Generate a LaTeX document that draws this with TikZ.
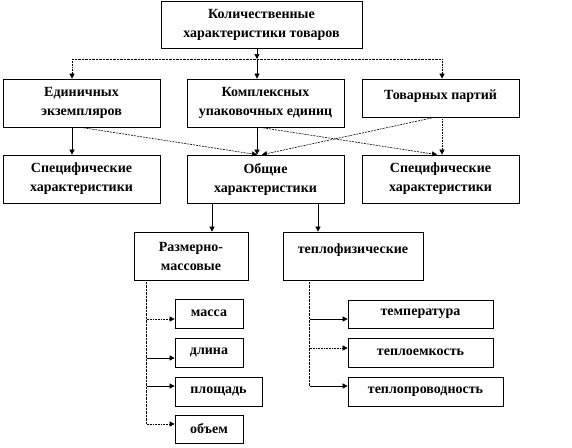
\documentclass[tikz,border=0pt]{standalone}
\usepackage{fontspec}
\setmainfont{Liberation Serif}
\usetikzlibrary{arrows.meta,calc}
\begin{document}
\begin{tikzpicture}[x=1pt,y=-1pt,
  box/.style={draw,line width=0.7pt,fill=white,align=center,inner sep=0pt,
    font=\fontsize{14}{19}\selectfont\bfseries},
  arr/.style={-{Triangle[length=5pt,width=5pt]},line width=0.6pt},
  dots/.style={densely dotted},
  dline/.style={dashed,dash pattern=on 2pt off 1pt}]
\useasboundingbox (0,0) rectangle (572,447);
% row 1
\node[box,minimum width=201,minimum height=47] (top) at (261.5,25) {Количественные\\характеристики товаров};
% row 2
\node[box,minimum width=157,minimum height=48] (ed) at (81.5,103) {Единичных\\экземпляров};
\node[box,minimum width=157,minimum height=48] (kom) at (265.5,103) {Комплексных\\упаковочных единиц};
\node[box,minimum width=157,minimum height=38,text depth=6pt] (tov) at (440.5,98) {Товарных партий};
% row 3
\node[box,minimum width=157,minimum height=48] (specL) at (81.5,179) {Специфические\\характеристики};
\node[box,minimum width=157,minimum height=48] (obsh) at (265.5,179) {Общие\\характеристики};
\node[box,minimum width=157,minimum height=48] (specR) at (440.5,179) {Специфические\\характеристики};
% row 4
\node[box,minimum width=114,minimum height=48] (razm) at (191,256) {Размерно-\\массовые};
\node[box,minimum width=140,minimum height=48,text depth=15pt] (tepl) at (353,256) {теплофизические};
% leaves
\node[box,minimum width=68,minimum height=29] (massa) at (209,313.5) {масса};
\node[box,minimum width=68,minimum height=29] (dlina) at (209,352.5) {длина};
\node[box,minimum width=87,minimum height=29] (plosh) at (218.5,391.5) {площадь};
\node[box,minimum width=68,minimum height=28] (obem) at (209,429) {объем};
\node[box,minimum width=145,minimum height=28] (temp) at (420.5,314) {температура};
\node[box,minimum width=145,minimum height=29] (teploem) at (420.5,352.5) {теплоемкость};
\node[box,minimum width=155,minimum height=29] (teploprov) at (425.5,391.5) {теплопроводность};
% connectors from top
\coordinate (j) at (257,59);
\coordinate (jl) at (72,59);
\coordinate (jr) at (442,59);
\draw[arr] ([xshift=-4.5]top.south) -- (j);
\draw[dots] (jl) -- (jr);
\draw[arr,dots] (jl) -- (jl |- ed.north);
\draw[arr] (j) -- (j |- kom.north);
\draw[arr,dots] (jr) -- (jr |- tov.north);
% row 2 to row 3
\draw[arr] ([xshift=-9.5]ed.south) -- ([xshift=-9.5]specL.north);
\draw[arr] ([xshift=-8.5]kom.south) -- ([xshift=-8.5]obsh.north);
\draw[arr,dots] ([xshift=1.5]tov.south) -- ([xshift=1.5]specR.north);
\draw[arr,dline] ([xshift=-1]ed.south) -- ([xshift=-8.5]obsh.north);
\draw[arr,dline] ([xshift=-6]tov.south) -- ([xshift=-3.5]obsh.north);
\draw[arr,dline] ([xshift=-5.5]kom.south) -- ([xshift=-3.5]specR.north);
% row 3 to row 4
\draw[arr] ([xshift=-53.5]obsh.south) -- ([xshift=21]razm.north);
\draw[arr] ([xshift=52.5]obsh.south) -- ([xshift=-35]tepl.north);
% leaves left
\coordinate (lv) at ([xshift=13]razm.south west);
\draw[dots] (lv) -- (lv |- 0,424);
\draw[arr,dots] (lv |- 0,319) -- (massa.west |- 0,319);
\draw[arr] (lv |- 0,358) -- (dlina.west |- 0,358);
\draw[arr] (lv |- 0,386) -- (plosh.west |- 0,386);
\draw[arr,dots] (lv |- 0,424) -- (obem.west |- 0,424);
% leaves right
\coordinate (rv) at ([xshift=27]tepl.south west);
\draw[dots] (rv) -- (rv |- 0,386);
\draw[arr] (rv |- 0,319) -- (temp.west |- 0,319);
\draw[arr,dots] (rv |- 0,348) -- (teploem.west |- 0,348);
\draw[arr] (rv |- 0,386) -- (teploprov.west |- 0,386);
\end{tikzpicture}
\end{document}
